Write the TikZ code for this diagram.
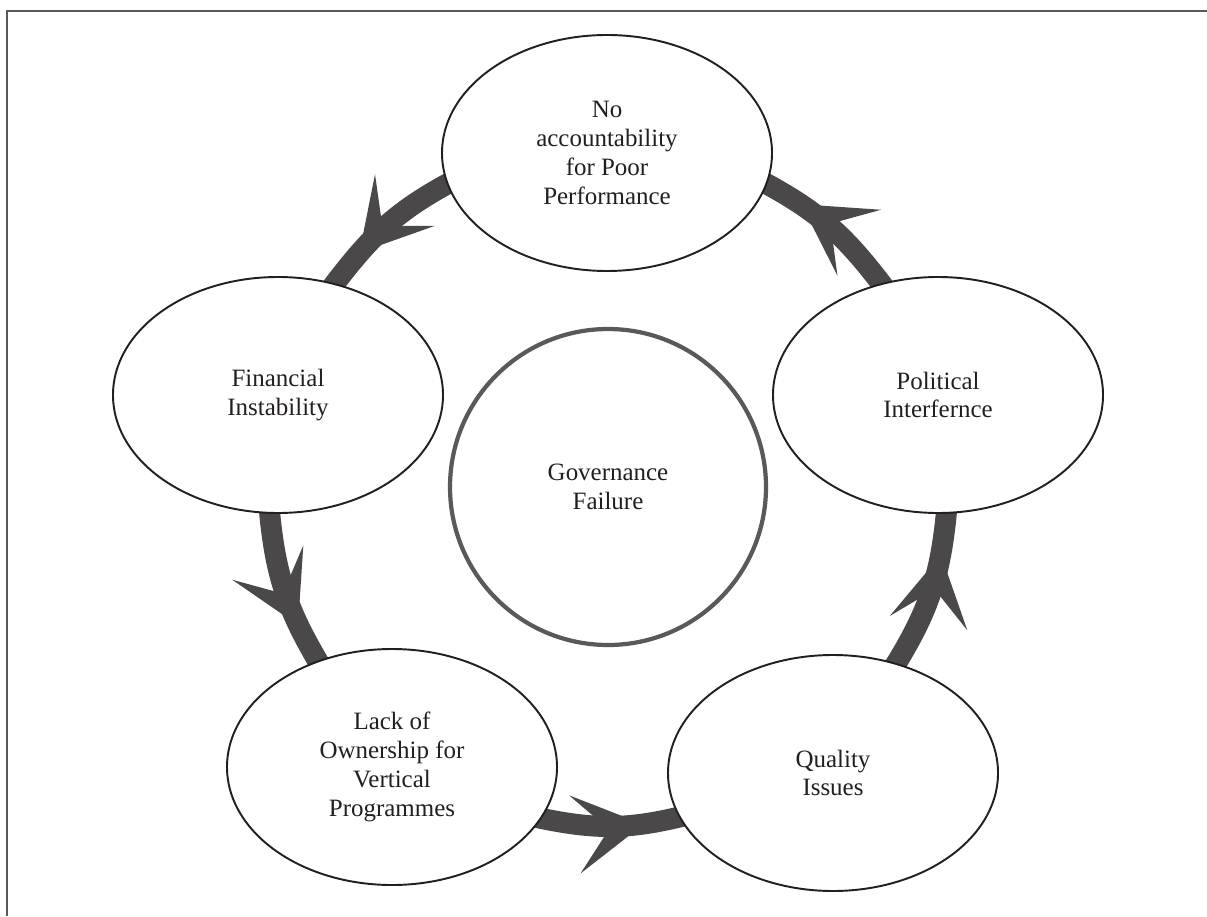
\documentclass[tikz,border=0pt]{standalone}
\usepackage{fontspec}
\setmainfont{Liberation Serif}
\usetikzlibrary{shapes.geometric,decorations.markings,backgrounds}
\definecolor{bandgray}{HTML}{4B4849}
\definecolor{hubgray}{HTML}{5A5859}
\definecolor{inkgray}{HTML}{231F20}
\tikzset{
    cyclebox/.style={
        draw=inkgray,
        ellipse,
        fill=white,
        line width=1.1pt,
        minimum width=6.6cm,
        minimum height=4.72cm,
        align=center,
        text=inkgray,
        font=\fontsize{14.2}{16.4}\selectfont
    },
    hub/.style={
        draw=hubgray,
        circle,
        fill=white,
        line width=2.4pt,
        minimum size=6.32cm,
        align=center,
        text=inkgray,
        font=\fontsize{14.2}{16.4}\selectfont
    },
    band/.style={
        bandgray,
        line width=0.42cm,
        shorten <=-0.15cm,
        shorten >=-0.15cm,
        decoration={markings,
            mark=at position 0.74 with {\fill (0,0) -- (-1.39,0.79) -- (-0.70,0) -- (-1.39,-0.79) -- cycle;}},
        postaction=decorate
    }
}

\begin{document}
\begin{tikzpicture}
  \useasboundingbox (0,0) rectangle (24.14,18.32);

  \node[cyclebox] (acc) at (12.14,15.26) {No\\accountability\\for Poor\\Performance};
  \node[cyclebox] (pol) at (18.76,10.42) {Political\\Interfernce};
  \node[cyclebox] (qual) at (16.66,2.86) {Quality\\Issues};
  \node[cyclebox] (own) at (7.84,2.98) {Lack of\\Ownership for\\Vertical\\Programmes};
  \node[cyclebox] (fin) at (5.56,10.42) {Financial\\Instability};

  \node[hub] (gov) at (12.16,8.58) {Governance\\Failure};

  \begin{scope}[on background layer]
    \draw[hubgray, line width=1.4pt] (0.14,0) -- (0.14,18.1) -- (24.14,18.1);

    % the cycle runs counter clockwise
    \draw[band] (pol.117) to[out=127,in=332] (acc.349);
    \draw[band] (acc.191) to[out=208,in=53] (fin.63);
    \draw[band] (fin.266) to[out=275,in=121] (own.125);
    \draw[band] (own.341) to[out=348,in=194] (qual.196);
    \draw[band] (qual.60) to[out=58,in=265] (pol.274);
  \end{scope}

\end{tikzpicture}
\end{document}
